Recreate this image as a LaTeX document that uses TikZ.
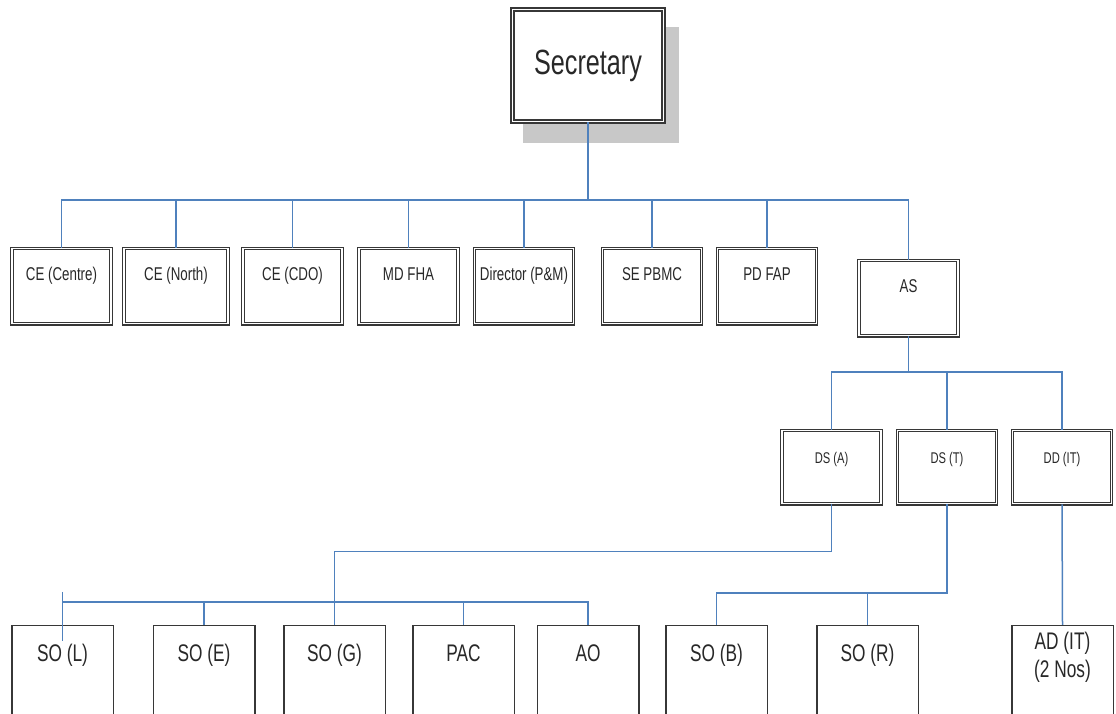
\documentclass[tikz,border=0pt]{standalone}
\usepackage{fontspec}
\setmainfont{Liberation Sans}[FakeStretch=0.72]
\usepackage{xcolor}
\usepackage{tikz}
\usetikzlibrary{backgrounds}
\definecolor{linkblue}{RGB}{79, 129, 189}
\definecolor{framegrey}{RGB}{55, 55, 55}
\definecolor{shadowgrey}{RGB}{200, 200, 200}
\definecolor{textgrey}{RGB}{40, 40, 40}

\tikzset{
  link/.style={draw=linkblue, line width=1.5pt},
  head/.style={draw=framegrey, double=white, line width=1.8pt, double distance=1.3pt,
    fill=white, text=textgrey, minimum width=151pt, minimum height=112pt,
    font=\fontsize{35}{40}\selectfont},
  unit/.style={draw=framegrey, double=white, line width=1.3pt, double distance=1.2pt,
    fill=white, text=textgrey, inner sep=0pt, anchor=north, minimum width=99pt,
    text height=31.7pt, text depth=43.5pt, font=\fontsize{18.5}{22}\selectfont},
  deputy/.style={unit, text height=32.6pt, text depth=40.6pt,
    font=\fontsize{15.5}{18}\selectfont},
  post/.style={draw=framegrey, line width=1.5pt, fill=white, text=textgrey,
    inner sep=0pt, anchor=north, minimum width=101.5pt,
    text height=36pt, text depth=80pt, font=\fontsize{24}{28}\selectfont}
}

\begin{document}
\begin{tikzpicture}[x=1pt, y=-1pt]
            \clip (0,0) rectangle (1116,714);

            % Secretary
            \node[head] (sec) at (588,65.5) {Secretary};
            \begin{scope}[on background layer]
                \fill[shadowgrey] ([shift={(11,18)}]sec.north west) rectangle ([shift={(15,21)}]sec.south east);
            \end{scope}

            % First row
            \node[unit] (cecen) at (61.5,247.9) {CE (Centre)};
            \node[unit, minimum width=104pt] (cenor) at (176,247.9) {CE (North)};
            \node[unit] (cecdo) at (292.5,247.9) {CE (CDO)};
            \node[unit] (mdfha) at (408.5,247.9) {MD FHA};
            \node[unit] (dirpm) at (524,247.9) {Director (P\&M)};
            \node[unit] (sepbmc) at (652,247.9) {SE PBMC};
            \node[unit] (pdfap) at (767,247.9) {PD FAP};
            \node[unit] (addl) at (908.5,259.9) {AS};

            % Under AS
            \node[deputy] (dsa) at (831.5,429.9) {DS (A)};
            \node[deputy] (dst) at (947,429.9) {DS (T)};
            \node[deputy] (ddit) at (1062,429.9) {DD (IT)};

            % Bottom row
            \node[post] (sol) at (62.5,624.75) {SO (L)};
            \node[post] (soe) at (204,624.75) {SO (E)};
            \node[post] (sog) at (334.5,624.75) {SO (G)};
            \node[post] (pac) at (463.5,624.75) {PAC};
            \node[post] (ao) at (588,624.75) {AO};
            \node[post] (sob) at (716.5,624.75) {SO (B)};
            \node[post] (sor) at (867.5,624.75) {SO (R)};
            \node[post, text height=24.25pt, text depth=92.5pt] (adit) at (1062.5,624.75)
                {\begin{tabular}[t]{@{}c@{}}AD (IT)\\(2 Nos)\end{tabular}};

            % Links
            \coordinate (bus1) at (588,200);
            \draw[link] (sec.south) -- (bus1);
            \foreach \n in {cecen,cenor,cecdo,mdfha,dirpm,sepbmc,pdfap,addl}
                \draw[link] (bus1) -| (\n.north);

            \coordinate (bus2) at (908.5,372);
            \draw[link] (addl.south) -- (bus2);
            \foreach \n in {dsa,dst,ddit}
                \draw[link] (bus2) -| (\n.north);

            \coordinate (bus3) at (334.5,602);
            \draw[link] (dsa.south) -- ++(0,47) -| (bus3);
            \foreach \n in {soe,sog,pac,ao}
                \draw[link] (bus3) -| (\n.north);
            \draw[link] (bus3) -| (sol.north);
            \draw[link] ([yshift=33pt]sol.north) -- ([yshift=-16pt]sol.north);

            \coordinate (bus4) at (947,593);
            \draw[link] (dst.south) -- (bus4) -| (sob.north);
            \draw[link] (bus4) -| (sor.north);
            \draw[link] (ddit.south) -- (adit.north);
        \end{tikzpicture}
\end{document}
